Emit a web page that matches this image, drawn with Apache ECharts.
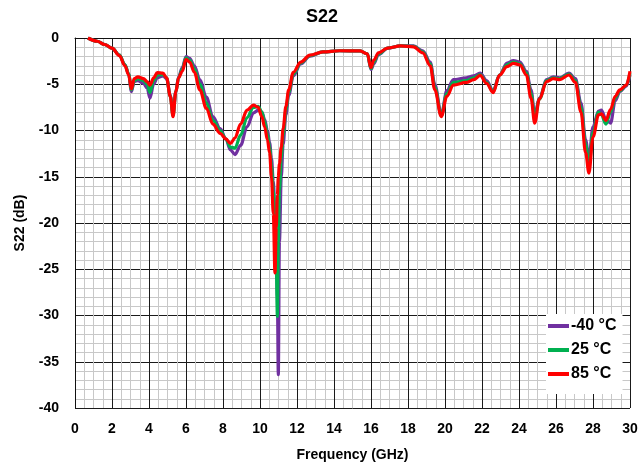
<!DOCTYPE html>
<html>
<head>
<meta charset="utf-8">
<script src="https://cdn.jsdelivr.net/npm/echarts@6/dist/echarts.min.js"></script>
<style>html,body{margin:0;padding:0;background:#fff}#c{width:644px;height:467px}</style>
</head>
<body>
<div id="c"></div>
<script>
const freq = [0.7,1.2,1.6,2.0,2.4,2.7,2.9,3.05,3.2,3.4,3.7,3.9,4.05,4.25,4.45,4.75,4.95,5.15,5.3,5.45,5.6,5.8,6.0,6.2,6.45,6.75,7.1,7.45,7.85,8.15,8.4,8.65,8.95,9.3,9.65,9.9,10.1,10.25,10.4,10.52,10.62,10.72,10.81,10.88,10.94,10.99,11.05,11.15,11.25,11.4,11.55,11.8,12.2,12.7,13.4,14.3,15.4,15.8,16.0,16.15,16.4,16.9,17.6,18.3,18.8,19.2,19.45,19.8,20.1,20.45,21.15,21.55,21.9,22.25,22.6,22.95,23.35,23.7,24.05,24.4,24.65,24.85,25.1,25.5,25.85,26.2,26.7,27.05,27.35,27.6,27.78,28.0,28.3,28.45,28.7,28.95,29.2,29.45,29.8,30.0];
const s22_m40 = [0,-0.35,-0.7,-1.1,-1.85,-2.9,-3.9,-5.8,-4.7,-4.6,-4.9,-5.4,-6.5,-5.0,-4.3,-4.1,-4.4,-6.2,-8.2,-5.8,-4.2,-3.2,-2.0,-2.2,-3.0,-4.5,-6.4,-8.5,-9.8,-10.9,-12.1,-12.6,-11.6,-9.6,-8.1,-7.8,-8.0,-8.8,-10.0,-11.3,-13.0,-15.5,-19.0,-23.0,-28.0,-36.4,-22.0,-15.0,-11.5,-8.3,-6.2,-4.1,-2.8,-1.95,-1.5,-1.38,-1.4,-1.7,-3.4,-2.8,-1.8,-1.1,-0.85,-0.85,-1.4,-2.6,-5.0,-8.3,-5.7,-4.5,-4.3,-4.1,-3.8,-4.6,-5.7,-4.0,-2.7,-2.45,-2.6,-3.6,-5.6,-8.3,-6.5,-4.5,-4.2,-4.3,-3.8,-4.4,-7.0,-11.0,-13.0,-9.6,-7.9,-7.8,-8.8,-9.2,-6.8,-5.8,-5.2,-4.0];
const s22_25 = [0,-0.35,-0.7,-1.1,-1.85,-2.9,-3.9,-5.6,-4.6,-4.4,-4.6,-5.0,-5.9,-4.6,-4.0,-3.95,-4.3,-6.3,-8.4,-5.8,-4.3,-3.4,-2.15,-2.4,-3.3,-5.0,-7.0,-8.9,-10.0,-10.9,-11.8,-11.9,-10.5,-8.6,-7.5,-7.4,-8.0,-9.0,-10.4,-11.8,-13.8,-16.5,-20.0,-24.5,-30.1,-22.0,-16.5,-13.0,-10.5,-7.8,-5.9,-3.9,-2.7,-1.9,-1.5,-1.38,-1.4,-1.7,-3.3,-2.6,-1.7,-1.1,-0.86,-0.9,-1.5,-2.8,-5.3,-8.4,-6.0,-4.8,-4.6,-4.3,-3.95,-4.8,-5.8,-4.0,-2.9,-2.6,-2.8,-3.8,-6.0,-8.7,-6.6,-4.6,-4.3,-4.4,-3.9,-4.6,-7.5,-11.5,-13.8,-10.2,-8.0,-8.3,-9.3,-8.0,-6.5,-5.7,-5.1,-3.8];
const s22_85 = [0,-0.35,-0.7,-1.1,-1.9,-3.0,-4.0,-5.5,-4.4,-4.2,-4.4,-4.7,-5.1,-4.3,-3.75,-3.8,-4.3,-6.3,-8.5,-5.8,-4.3,-3.6,-2.3,-2.6,-3.7,-5.6,-7.6,-9.3,-10.3,-10.9,-11.4,-10.8,-9.3,-7.8,-7.25,-7.5,-8.5,-9.6,-11.0,-12.4,-15.0,-19.0,-25.4,-20.5,-17.0,-15.0,-13.6,-11.8,-9.8,-7.4,-5.6,-3.7,-2.6,-1.85,-1.5,-1.38,-1.4,-1.7,-3.2,-2.4,-1.6,-1.1,-0.86,-0.95,-1.6,-3.0,-5.6,-8.5,-6.3,-5.1,-4.8,-4.5,-4.05,-4.9,-5.9,-4.0,-3.1,-2.75,-2.9,-4.0,-6.5,-9.2,-6.6,-4.7,-4.4,-4.5,-4.0,-4.8,-8.0,-12.4,-14.6,-10.7,-8.3,-8.2,-8.9,-7.7,-6.3,-5.6,-5.1,-3.6];
const seriesNames = ['-40 °C','25 °C','85 °C'];
const seriesColors = ['#7030a0','#00b050','#ff0000'];
const seriesValues = [s22_m40, s22_25, s22_85];

const FONT = '"Liberation Sans", Arial, sans-serif';
const chart = echarts.init(document.getElementById('c'), null, {renderer:'canvas'});
chart.setOption({
  animation: false,
  backgroundColor: '#fff',
  title: {text: 'S22', left: 'center', top: 3, textStyle: {fontFamily: FONT, fontSize: 18, fontWeight: 'bold', color: '#000'}},
  grid: {left: 75, right: 14, top: 38, bottom: 59},
  legend: {
    orient: 'vertical', left: 546, top: 314, backgroundColor: '#fff',
    padding: [4, 6, 12, 2], itemGap: 8, itemWidth: 21, itemHeight: 4, icon: 'rect',
    data: seriesNames,
    textStyle: {fontFamily: FONT, fontSize: 16, fontWeight: 'bold', color: '#000', padding: [0,0,0,-3]}
  },
  xAxis: {
    type: 'value', min: 0, max: 30, interval: 2,
    name: 'Frequency (GHz)', nameLocation: 'middle', nameGap: 40,
    nameTextStyle: {fontFamily: FONT, fontSize: 14, fontWeight: 'bold', color: '#000'},
    axisLine: {show: true, lineStyle: {color: '#111', width: 1}},
    axisTick: {show: false},
    axisLabel: {fontFamily: FONT, fontSize: 14, fontWeight: 'bold', color: '#000', margin: 14},
    splitLine: {show: true, lineStyle: {color: '#1a1a1a', width: 1}},
    minorTick: {show: false, splitNumber: 4},
    minorSplitLine: {show: true, lineStyle: {color: '#c8c8c8', width: 1}}
  },
  yAxis: {
    type: 'value', min: -40, max: 0, interval: 5,
    name: 'S22 (dB)', nameLocation: 'middle', nameGap: 48, nameRotate: 90,
    nameTextStyle: {fontFamily: FONT, fontSize: 14, fontWeight: 'bold', color: '#000'},
    axisLine: {show: true, lineStyle: {color: '#111', width: 1}},
    axisTick: {show: false},
    axisLabel: {fontFamily: FONT, fontSize: 14, fontWeight: 'bold', color: '#000', margin: 16},
    splitLine: {show: true, lineStyle: {color: '#1a1a1a', width: 1}},
    minorTick: {show: false, splitNumber: 5},
    minorSplitLine: {show: true, lineStyle: {color: '#c8c8c8', width: 1}}
  },
  series: seriesNames.map((n, i) => ({
    name: n, type: 'line', showSymbol: false, symbol: 'none',
    smooth: 0.35, smoothMonotone: 'x',
    color: seriesColors[i],
    lineStyle: {color: seriesColors[i], width: 3.2},
    data: freq.map((f, k) => [f, seriesValues[i][k]]),
    z: 2 + i
  }))
});
</script>
</body>
</html>
